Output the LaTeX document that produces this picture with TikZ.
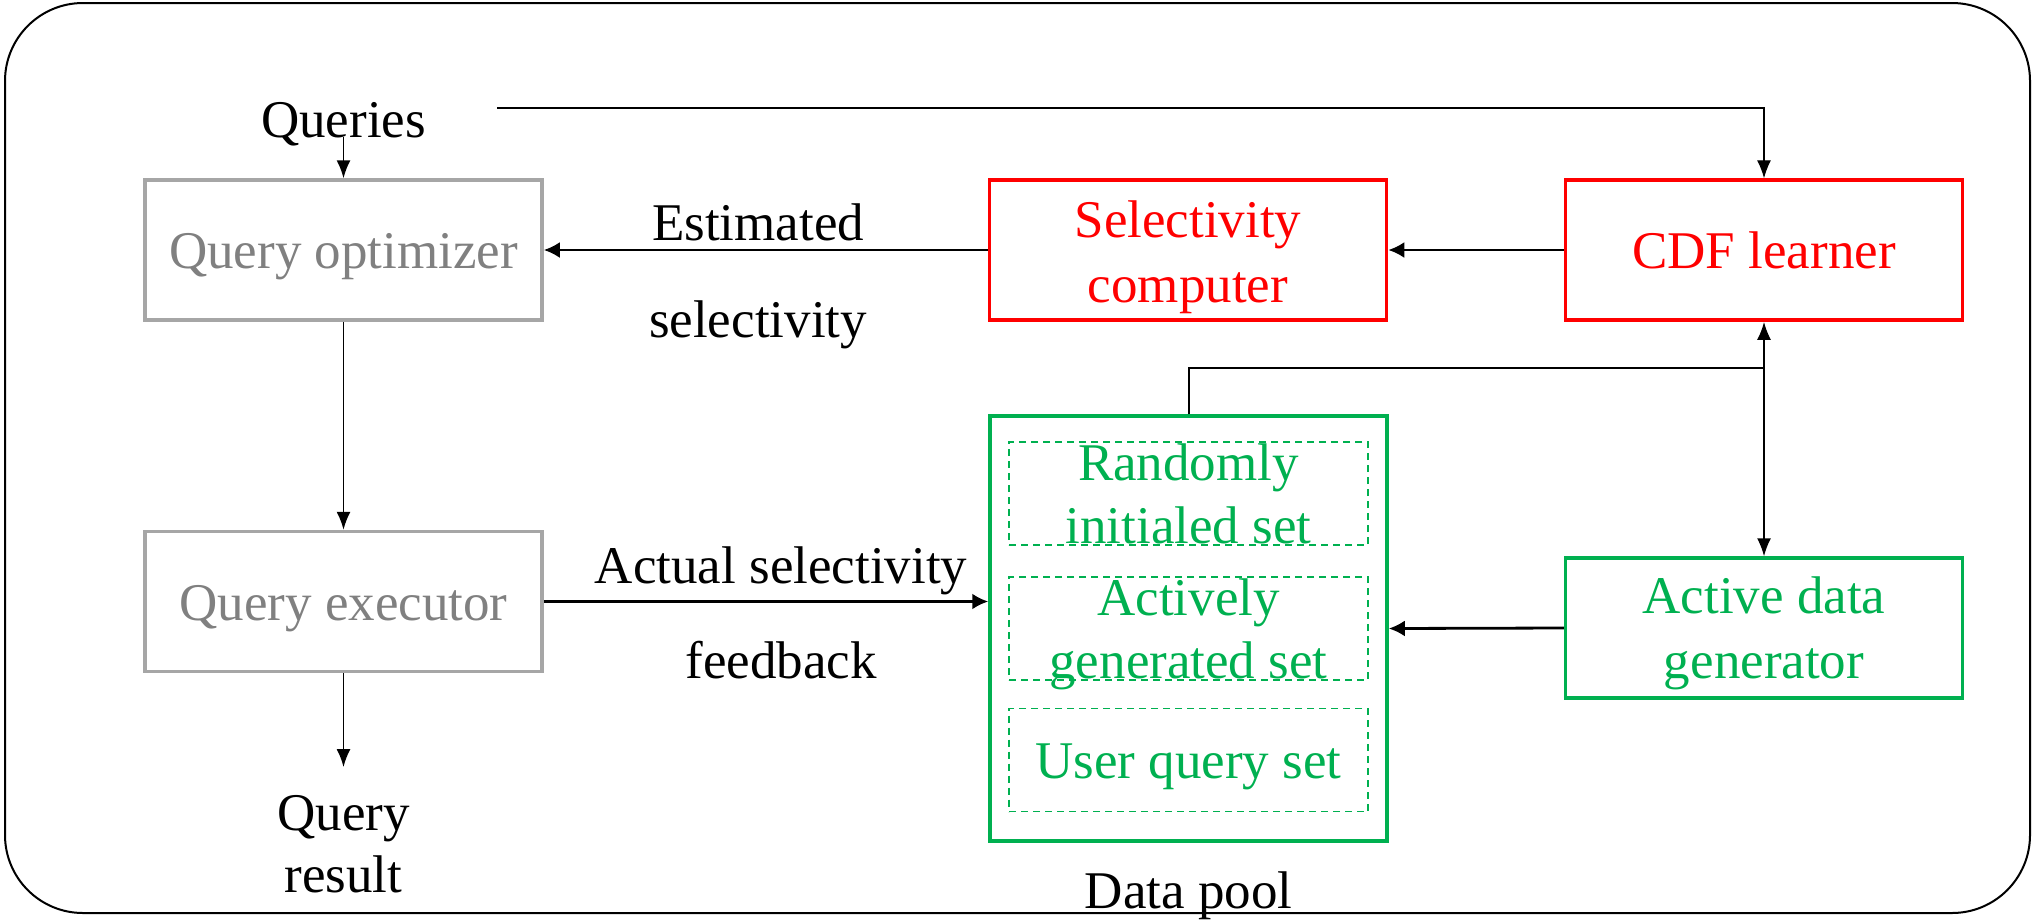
\documentclass[tikz,border=0pt]{standalone}
\usepackage{fontspec}
\setmainfont{Liberation Serif}
\usetikzlibrary{arrows.meta}
\definecolor{boxgray}{RGB}{166,166,166}
\definecolor{txtgray}{RGB}{128,128,128}
\definecolor{pgreen}{RGB}{0,176,80}
\begin{document}
\begin{tikzpicture}[x=1pt,y=-1pt,
  txt/.style={font=\fontsize{53}{64}\selectfont, inner sep=0pt, anchor=base},
  box/.style={draw, line width=3.5pt, inner sep=0pt, minimum width=397pt, minimum height=140pt},
  setbox/.style={draw=pgreen, line width=1.6pt, dash pattern=on 7pt off 5pt, inner sep=0pt, minimum width=359pt, minimum height=103pt},
  thinarrow/.style={line width=1.6pt, -{Latex[length=18pt,width=14pt]}},
  thickarrow/.style={line width=2.8pt, -{Latex[length=16pt,width=16pt]}}
]
\useasboundingbox (0,0) rectangle (2033,919);
% outer frame
\draw[line width=2pt, rounded corners=78pt] (5,3) rectangle (2030,913);

% boxes
\node[box, draw=boxgray] (opt) at (343.5,250) {};
\node[box, draw=boxgray] (exe) at (343.5,601.5) {};
\node[box, draw=red] (sel) at (1188,250) {};
\node[box, draw=red] (cdf) at (1764,250) {};
\node[box, draw=pgreen] (adg) at (1764,628) {};
\node[draw=pgreen, line width=3.5pt, inner sep=0pt, minimum width=397pt, minimum height=425pt] (pool) at (1188.5,628.5) {};
\node[setbox] (s1) at (1188.5,493.5) {};
\node[setbox] (s2) at (1188.5,628.5) {};
\node[setbox] (s3) at (1188.5,760) {};

% texts
\node[txt] (queries) at (343.5,137) {Queries};
\node[txt, text=txtgray] (optT) at (343.5,268) {Query optimizer};
\node[txt, text=txtgray] (exeT) at (343.5,620) {Query executor};
\node[txt] (est1) at (758,240) {Estimated};
\node[txt] (est2) at (758,337) {selectivity};
\node[txt, text=red] (sel1) at (1188,237) {Selectivity};
\node[txt, text=red] (sel2) at (1188,302) {computer};
\node[txt, text=red] (cdfT) at (1764,268) {CDF learner};
\node[txt] (act1) at (781,583) {Actual selectivity};
\node[txt] (act2) at (781,678) {feedback};
\node[txt] (qr1) at (343.5,830) {Query};
\node[txt] (qr2) at (343.5,892) {result};
\node[txt, text=pgreen] (s1a) at (1188.5,480) {Randomly};
\node[txt, text=pgreen] (s1b) at (1188.5,543) {initialed set};
\node[txt, text=pgreen] (s2a) at (1188.5,615) {Actively};
\node[txt, text=pgreen] (s2b) at (1188.5,678) {generated set};
\node[txt, text=pgreen] (s3a) at (1188.5,778) {User query set};
\node[txt] (poolT) at (1188.5,908) {Data pool};
\node[txt, text=pgreen] (adg1) at (1764,613) {Active data};
\node[txt, text=pgreen] (adg2) at (1764,678) {generator};

% connectors
\coordinate (qstart) at (497,108);
\coordinate (qend) at (343.5,767);
\coordinate (j) at (1764,368);
\draw[thinarrow] (queries.base) -- (opt.north);
\draw[line width=1.2pt, -{Latex[length=18pt,width=14pt]}] (qstart) -| (cdf.north);
\draw[thickarrow] (sel.west) -- (opt.east);
\draw[thickarrow] (cdf.west) -- (sel.east);
\draw[thinarrow] (opt.south) -- (exe.north);
\draw[thickarrow] (exe.east) -- (exe.east -| pool.west);
\draw[thinarrow] (exe.south) -- (qend);
\draw[line width=2pt, -{Latex[length=18pt,width=14pt]}] (pool.north) |- (j) -- (cdf.south);
\draw[thinarrow] (j) -- (adg.north);
\draw[thickarrow] (adg.west) -- (pool.east);
\end{tikzpicture}
\end{document}
